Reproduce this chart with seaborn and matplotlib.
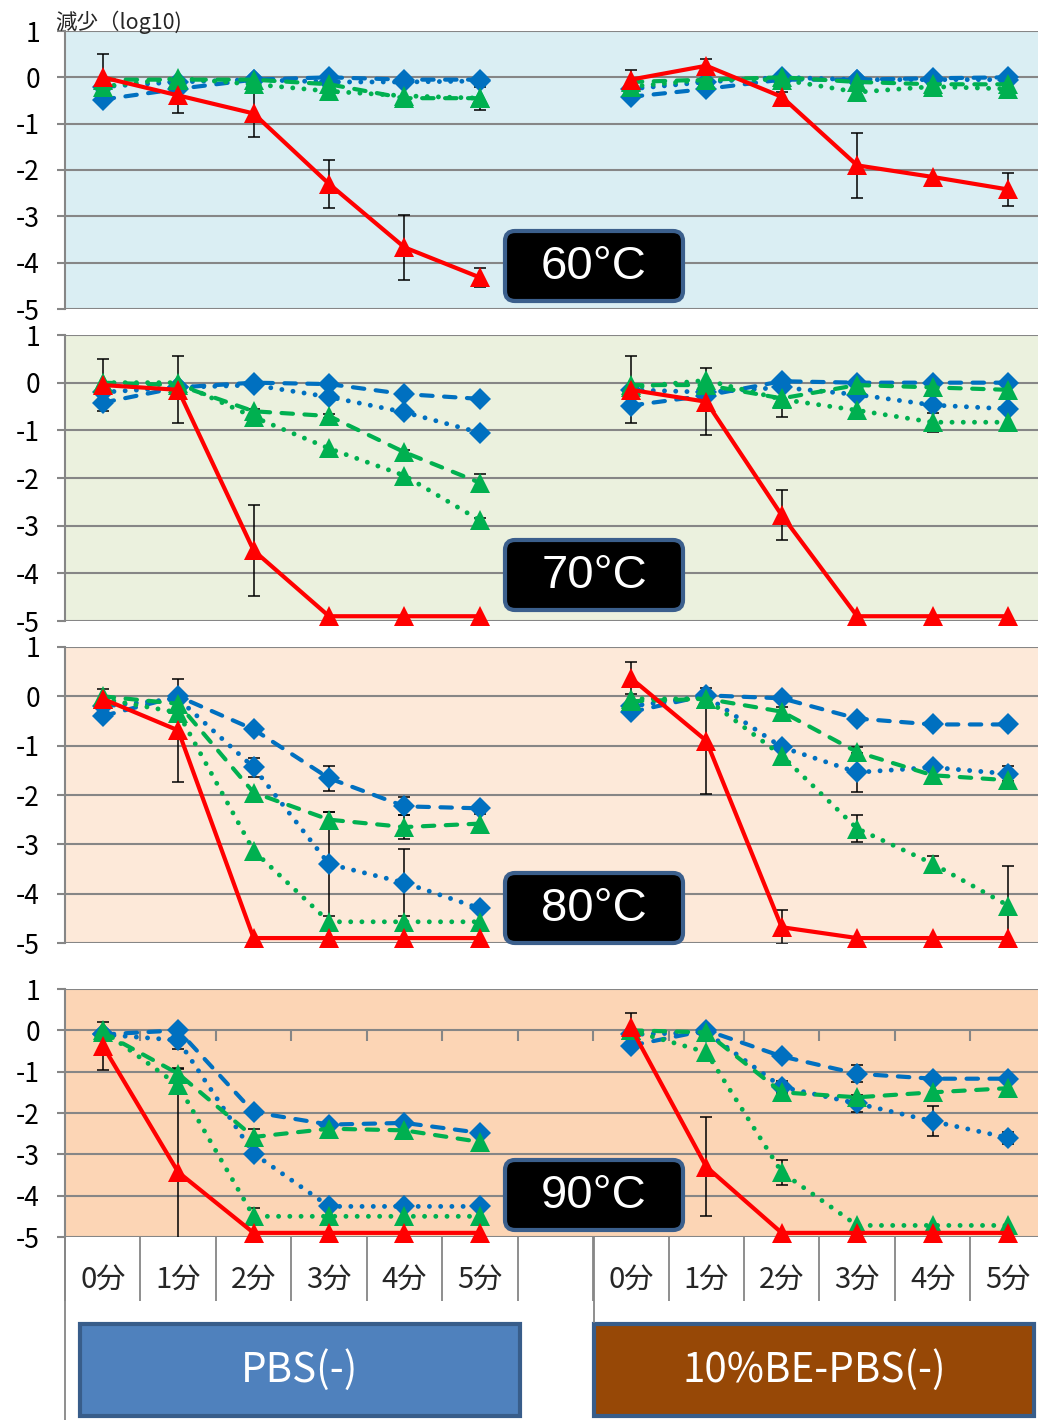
import numpy as np
import pandas as pd
import matplotlib
matplotlib.use('Agg')
import matplotlib.pyplot as plt
import seaborn as sns
from matplotlib.patches import FancyBboxPatch, Rectangle

# categories
minutes = ['0分', '1分', '2分', '3分', '4分', '5分']
buffers = ['PBS(-)', '10%BE-PBS(-)']
temps = ['60°C', '70°C', '80°C', '90°C']
series = ['blue_dash', 'blue_dot', 'green_dash', 'green_dot', 'red']

# log10 reduction: 6 points PBS(-), then 6 points 10%BE-PBS(-)
t60 = {
    'blue_dash':  [-0.48, -0.25, -0.05, 0.0, -0.05, -0.05, -0.42, -0.25, -0.05, -0.05, -0.02, 0.0],
    'blue_dot':   [-0.2, -0.1, -0.05, -0.1, -0.1, -0.08, -0.25, -0.1, 0.0, -0.05, -0.05, -0.05],
    'green_dash': [-0.05, -0.05, -0.05, -0.15, -0.45, -0.45, -0.1, -0.05, 0.0, -0.1, -0.15, -0.15],
    'green_dot':  [-0.2, -0.02, -0.15, -0.3, -0.4, -0.45, -0.2, -0.05, -0.05, -0.32, -0.2, -0.25],
    'red':        [0.0, -0.39, -0.78, -2.3, -3.67, -4.32, -0.05, 0.25, -0.42, -1.9, -2.15, -2.42],
}
t60_err = {
    'blue_dash':  [0, 0, 0, 0, 0, 0, 0, 0, 0, 0, 0, 0],
    'blue_dot':   [0, 0, 0, 0, 0, 0, 0, 0, 0, 0, 0, 0],
    'green_dash': [0, 0, 0, 0, 0, 0.25, 0, 0, 0, 0, 0.2, 0],
    'green_dot':  [0, 0, 0, 0, 0, 0, 0, 0, 0, 0, 0, 0],
    'red':        [0.5, 0.37, 0.5, 0.52, 0.7, 0.2, 0.2, 0.15, 0.1, 0.7, 0, 0.35],
}
t70 = {
    'blue_dash':  [-0.42, -0.1, 0.0, -0.03, -0.24, -0.34, -0.48, -0.27, 0.03, 0.0, 0.0, 0.0],
    'blue_dot':   [-0.2, -0.1, -0.05, -0.3, -0.62, -1.05, -0.15, -0.2, -0.1, -0.25, -0.47, -0.55],
    'green_dash': [0.0, -0.05, -0.6, -0.7, -1.46, -2.1, -0.05, -0.05, -0.33, -0.05, -0.1, -0.15],
    'green_dot':  [0.0, 0.0, -0.72, -1.38, -1.95, -2.89, -0.1, 0.05, -0.35, -0.58, -0.83, -0.83],
    'red':        [-0.05, -0.15, -3.52, -4.9, -4.9, -4.9, -0.15, -0.4, -2.78, -4.9, -4.9, -4.9],
}
t70_err = {
    'blue_dash':  [0, 0, 0, 0, 0, 0, 0, 0, 0, 0, 0, 0],
    'blue_dot':   [0, 0, 0, 0, 0, 0, 0, 0, 0, 0, 0, 0],
    'green_dash': [0, 0, 0.05, 0.05, 0.05, 0.18, 0, 0, 0.4, 0, 0, 0],
    'green_dot':  [0, 0, 0, 0, 0, 0.05, 0, 0, 0, 0, 0.2, 0],
    'red':        [0.55, 0.7, 0.95, 0, 0, 0, 0.7, 0.7, 0.53, 0, 0, 0],
}
t80 = {
    'blue_dash':  [-0.4, 0.0, -0.67, -1.66, -2.23, -2.27, -0.32, 0.02, -0.04, -0.45, -0.57, -0.57],
    'blue_dot':   [-0.2, -0.05, -1.44, -3.4, -3.78, -4.3, -0.2, 0.0, -1.03, -1.54, -1.44, -1.57],
    'green_dash': [0.0, -0.15, -1.95, -2.5, -2.65, -2.58, -0.1, -0.05, -0.31, -1.13, -1.6, -1.7],
    'green_dot':  [-0.05, -0.33, -3.13, -4.57, -4.57, -4.57, -0.05, -0.05, -1.2, -2.68, -3.39, -4.24],
    'red':        [-0.05, -0.69, -4.9, -4.9, -4.9, -4.9, 0.37, -0.9, -4.68, -4.9, -4.9, -4.9],
}
t80_err = {
    'blue_dash':  [0, 0, 0, 0.25, 0.18, 0, 0, 0, 0, 0, 0, 0],
    'blue_dot':   [0, 0, 0.2, 1.05, 0.68, 0, 0, 0, 0, 0.4, 0, 0.15],
    'green_dash': [0, 0, 0, 0.15, 0.25, 0.2, 0, 0, 0.1, 0.1, 0, 0],
    'green_dot':  [0, 0, 0, 0, 0, 0, 0, 0, 0.15, 0.28, 0.15, 0.8],
    'red':        [0.2, 1.05, 0, 0, 0, 0, 0.33, 1.07, 0.35, 0, 0, 0],
}
t90 = {
    'blue_dash':  [-0.1, 0.0, -1.98, -2.28, -2.24, -2.48, -0.37, 0.0, -0.63, -1.05, -1.17, -1.17],
    'blue_dot':   [-0.1, -0.24, -2.98, -4.26, -4.26, -4.26, -0.1, -0.05, -1.37, -1.77, -2.2, -2.6],
    'green_dash': [-0.05, -1.05, -2.58, -2.38, -2.42, -2.7, 0.0, -0.05, -1.5, -1.62, -1.5, -1.4],
    'green_dot':  [0.0, -1.33, -4.5, -4.5, -4.5, -4.5, 0.0, -0.53, -3.43, -4.72, -4.72, -4.72],
    'red':        [-0.37, -3.43, -4.9, -4.9, -4.9, -4.9, 0.07, -3.3, -4.9, -4.9, -4.9, -4.9],
}
t90_err = {
    'blue_dash':  [0, 0, 0, 0, 0, 0, 0, 0, 0, 0.2, 0, 0],
    'blue_dot':   [0, 0.2, 0, 0, 0, 0, 0, 0, 0.15, 0.2, 0.36, 0.15],
    'green_dash': [0, 0.15, 0.2, 0, 0, 0.22, 0, 0, 0.2, 0, 0, 0],
    'green_dot':  [0, 0, 0.2, 0, 0, 0, 0, 0, 0.3, 0, 0, 0],
    'red':        [0.58, 2.5, 0, 0, 0, 0, 0.35, 1.2, 0, 0, 0, 0],
}
values = [t60, t70, t80, t90]
errors = [t60_err, t70_err, t80_err, t90_err]

# long table for seaborn
rows = []
for ti, t in enumerate(temps):
    for s in series:
        for k in range(12):
            b = k // 6
            rows.append({'temp': t, 'series': s, 'buffer': buffers[b], 'minute': minutes[k % 6],
                         'pos': k % 6 + 7 * b, 'val': values[ti][s][k], 'err': errors[ti][s][k]})
df = pd.DataFrame(rows)

styles = {
    'blue_dash':  dict(color='#0070C0', linestyle=(0, (2.75, 2.75)), marker='D', markersize=11, linewidth=3),
    'blue_dot':   dict(color='#0070C0', linestyle=(0, (0.01, 2.3)), marker='D', markersize=11, linewidth=3.5),
    'green_dash': dict(color='#00B050', linestyle=(0, (2.75, 2.75)), marker='^', markersize=15, linewidth=3),
    'green_dot':  dict(color='#00B050', linestyle=(0, (0.01, 2.3)), marker='^', markersize=15, linewidth=3.5),
    'red':        dict(color='#FF0000', linestyle='-', marker='^', markersize=15, linewidth=3),
}
backgrounds = ['#DAEEF3', '#EBF1DE', '#FDE9D9', '#FCD5B5']
grid_gray = '#868686'

sns.set_style('white')
plt.rcParams['font.family'] = ['Noto Sans CJK JP', 'DejaVu Sans']
plt.rcParams['axes.unicode_minus'] = False

W, H = 1038, 1420
fig = plt.figure(figsize=(W / 100, H / 100), dpi=100)
panel_px = [(31, 309), (335, 621), (647, 943), (989, 1237)]
box_px = [229, 538, 871, 1158]

axes = []
for ti, t in enumerate(temps):
    top, bot = panel_px[ti]
    ax = fig.add_axes([65 / W, 1 - bot / H, (W - 65) / W, (bot - top) / H])
    ax.set_facecolor(backgrounds[ti])
    sub = df[df.temp == t]
    for s in series:
        d = sub[sub.series == s]
        e = d[d.err > 0]
        if len(e):
            ax.errorbar(e.pos, e.val, yerr=e.err, fmt='none', ecolor='black',
                        elinewidth=1.1, capsize=4.3, capthick=1.1, zorder=1.9)
        sns.lineplot(data=d, x='pos', y='val', units='buffer', estimator=None, ax=ax,
                     markeredgewidth=0, dash_capstyle='round',
                     clip_on=False, legend=False, **styles[s])
    ax.set_xlim(-0.5, (W - 103) / 75.42)
    ax.set_ylim(-5, 1)
    ax.set_yticks(range(-5, 2))
    ax.yaxis.grid(True, color=grid_gray, linewidth=1.5)
    ax.set_axisbelow(True)
    for sp in ['top', 'right', 'bottom']:
        ax.spines[sp].set_visible(False)
    ax.spines['left'].set_color(grid_gray)
    ax.spines['left'].set_linewidth(1.5)
    ax.tick_params(axis='y', length=6, width=1.5, color=grid_gray, labelsize=19, pad=12,
                   labelcolor='black', left=True)
    ax.set_xlabel('')
    ax.set_ylabel('')
    ax.set_xticks([])
    axes.append(ax)

# category axis under the last panel
ax = axes[-1]
pos = [i for i in range(13) if i != 6]
ax.set_xticks(pos)
ax.set_xticklabels(minutes + minutes, fontsize=21)
bounds = [i - 0.5 for i in range(13)]
ax.set_xticks(bounds, minor=True)
ax.tick_params(axis='x', which='major', length=0, pad=20)
ax.tick_params(axis='x', which='minor', length=46, width=1.3, color=grid_gray, bottom=True)
ax.vlines([b for b in bounds if b > 0], -0.25, 0, color=grid_gray, linewidth=1.5, zorder=1.5)

# overlay in pixel coordinates for the boxes and labels
ov = fig.add_axes([0, 0, 1, 1], facecolor='none')
ov.set_xlim(0, W)
ov.set_ylim(H, 0)
ov.axis('off')

ov.text(55, 22, '減少（log10)', fontsize=15.5, va='center', ha='left')

for ti, t in enumerate(temps):
    y0 = box_px[ti]
    ov.add_patch(FancyBboxPatch((505, y0 + 2), 178, 70, boxstyle='round,pad=0,rounding_size=10',
                                facecolor='black', edgecolor='#3B5F8C', linewidth=3))
    ov.text(594, y0 + 38, t, color='white', fontsize=34, ha='center', va='center',
            family=['Liberation Sans', 'DejaVu Sans'])

ov.plot([65, 65], [1237, 1420], color=grid_gray, lw=1.3)
ov.plot([594, 594], [1237, 1322], color=grid_gray, lw=1.3)

ov.add_patch(Rectangle((80, 1324), 440, 92, facecolor='#4F81BD', edgecolor='#385D8A', linewidth=3))
ov.text(300, 1370, buffers[0], color='white', fontsize=29, ha='center', va='center')
ov.add_patch(Rectangle((594, 1324), 440, 92, facecolor='#974806', edgecolor='#385D8A', linewidth=3))
ov.text(814, 1370, buffers[1], color='white', fontsize=29, ha='center', va='center')

fig.savefig('out.png', dpi=100)
